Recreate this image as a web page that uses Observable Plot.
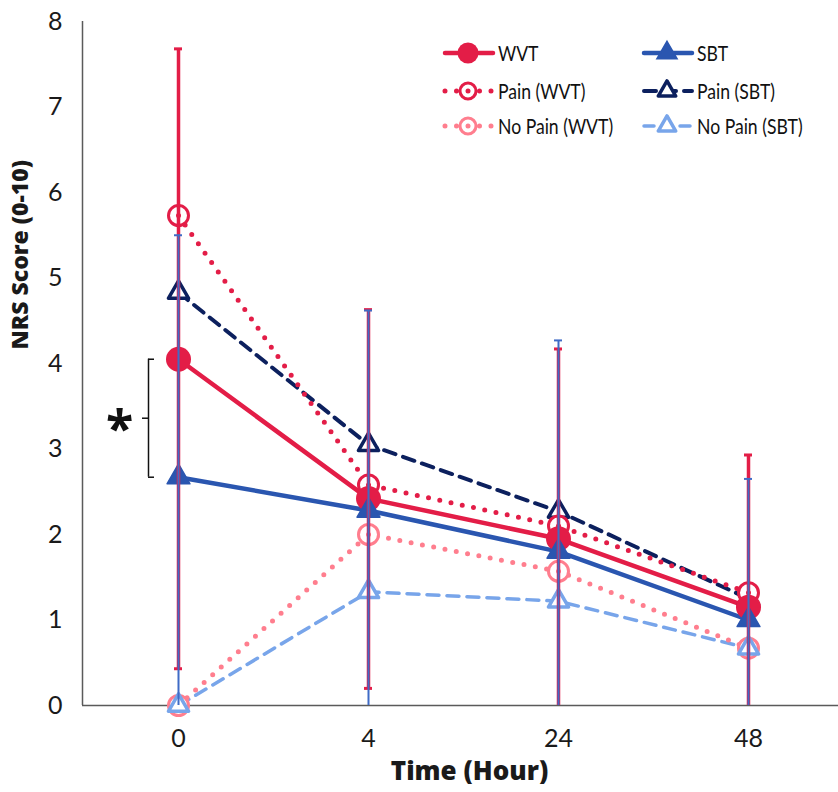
<!DOCTYPE html>
<html><head><meta charset="utf-8">
<script src="https://cdn.jsdelivr.net/npm/d3@7"></script>
<script src="https://cdn.jsdelivr.net/npm/@observablehq/plot@0.6"></script>
<style>
body{margin:0;background:#fff}
#wrap{position:relative;width:838px;height:792px}
#legend{position:absolute;left:0;top:0}
</style>
</head><body><div id="wrap"></div>
<script>
const times = ["0", "4", "24", "48"];
const wvt = [4.05, 2.42, 1.95, 1.15];
const sbt = [2.67, 2.28, 1.80, 1.00];
const painWvt = [5.73, 2.58, 2.10, 1.32];
const painSbt = [4.83, 3.05, 2.27, 1.25];
const noPainWvt = [0.00, 2.00, 1.57, 0.67];
const noPainSbt = [0.00, 1.33, 1.22, 0.67];
const wvtHigh = [7.68, 4.63, 4.17, 2.93];
const wvtLow = [0.43, 0.20, 0.00, 0.00];
const sbtHigh = [5.50, 4.62, 4.27, 2.65];
const sbtLow = [0.00, 0.00, 0.00, 0.00];
const yTicks = [0, 1, 2, 3, 4, 5, 6, 7, 8];
const bracketLow = 2.67, bracketHigh = 4.05, bracketLabel = "*";
const seriesNames = ["WVT", "SBT", "Pain (WVT)", "Pain (SBT)", "No Pain (WVT)", "No Pain (SBT)"];

const C = {wvt:"#E31D47", sbt:"#2A56B0", painSbt:"#0C205E", noWvt:"#FF7E8E", noSbt:"#78A5EA"};
const FONT = "Lato, 'Open Sans', sans-serif";
const TITLEFONT = "'Open Sans', Lato, sans-serif";

const rows = (vals) => times.map((t, i) => ({t, v: vals[i]}));
const err = (hi, lo) => times.map((t, i) => ({t, hi: hi[i], lo: lo[i]}));
const W = rows(wvt), S = rows(sbt), PW = rows(painWvt), PS = rows(painSbt), NW = rows(noPainWvt), NS = rows(noPainSbt);
const EW = err(wvtHigh, wvtLow), ES = err(sbtHigh, sbtLow);

const openCircle = (d, c) => [
  Plot.dot(d, {x:"t", y:"v", r:10, stroke:c, strokeWidth:3, fill:"white"}),
  Plot.dot(d, {x:"t", y:"v", r:2.5, fill:c})
];
const openTri = (d, c) => Plot.dot(d, {x:"t", y:"v", symbol:"triangle", r:7.5, stroke:c, strokeWidth:3.5, fill:"white", strokeLinejoin:"round"});

const plot = Plot.plot({
  width: 838, height: 792,
  marginLeft: 82, marginRight: 0, marginTop: 21, marginBottom: 87,
  style: {fontFamily: FONT, fontSize: "25px", color: "#1a1a1a", background: "white"},
  x: {type: "point", domain: times, range: [177, 749], padding: 0, axis: null},
  y: {domain: [0, 8], axis: null},
  marks: [
    Plot.axisY(yTicks, {tickSize: 0, tickPadding: 20, label: null, fontSize: 25, tickFormat: d => String(d)}),
    Plot.axisX(times, {tickSize: 0, tickPadding: 24, label: null, fontSize: 25}),
    Plot.ruleY([0], {stroke: "#5a5a5a", strokeWidth: 1.5}),
    Plot.ruleX([times[0]], {x: d => d, y1: 0, y2: 8, dx: -96, stroke: "#5a5a5a", strokeWidth: 1.5}),
    Plot.text(["NRS Score (0-10)"], {frameAnchor: "left", rotate: -90, dx: -62, dy: -14, fontWeight: 800, fontSize: 23, fontFamily: TITLEFONT}),
    Plot.text(["Time (Hour)"], {frameAnchor: "bottom", dy: 74, dx: 9, fontWeight: 800, fontSize: 26, fontFamily: TITLEFONT}),
    // lines
    Plot.line(NS, {x:"t", y:"v", stroke:C.noSbt, strokeWidth:3.5, strokeDasharray:"12,8"}),
    Plot.line(NW, {x:"t", y:"v", stroke:C.noWvt, strokeWidth:5, strokeDasharray:"0,11.5", strokeLinecap:"round"}),
    Plot.line(PS, {x:"t", y:"v", stroke:C.painSbt, strokeWidth:4, strokeDasharray:"12,8"}),
    Plot.line(PW, {x:"t", y:"v", stroke:C.wvt, strokeWidth:5, strokeDasharray:"0,11.5", strokeLinecap:"round"}),
    Plot.line(W, {x:"t", y:"v", stroke:C.wvt, strokeWidth:4.5}),
    Plot.line(S, {x:"t", y:"v", stroke:C.sbt, strokeWidth:4.5}),
    // markers
    ...openCircle(NW, C.noWvt),
    openTri(NS, C.noSbt),
    openTri(PS, C.painSbt),
    ...openCircle(PW, C.wvt),
    Plot.dot(W, {x:"t", y:"v", r:12.5, fill:C.wvt}),
    Plot.dot(S, {x:"t", y:"v", symbol:"triangle", r:8.5, fill:C.sbt, stroke:C.sbt, strokeWidth:1.5, strokeLinejoin:"round"}),
    // error bars
    Plot.ruleX(EW, {x:"t", y1:"lo", y2:"hi", stroke:C.wvt, strokeWidth:3.5}),
    Plot.ruleY(EW.filter(d => d.lo > 0), {y:"lo", x1:"t", x2:"t", insetLeft:-4, insetRight:-4, stroke:C.wvt, strokeWidth:3}),
    Plot.ruleY(EW, {y:"hi", x1:"t", x2:"t", insetLeft:-4, insetRight:-4, stroke:C.wvt, strokeWidth:3}),
    Plot.ruleX(ES, {x:"t", y1:"lo", y2:"hi", stroke:"#3F6BC6", strokeWidth:2}),
    Plot.ruleY(ES, {y:"hi", x1:"t", x2:"t", insetLeft:-4, insetRight:-4, stroke:"#3F6BC6", strokeWidth:2}),
    // significance bracket
    Plot.ruleX([times[0]], {x: d => d, y1: bracketLow, y2: bracketHigh, dx: -30, stroke: "#111", strokeWidth: 1.5}),
    Plot.ruleY([bracketLow, bracketHigh], {y: d => d, x1: () => times[0], x2: () => times[0], insetLeft: -30, insetRight: 24, stroke: "#111", strokeWidth: 1.5}),
    Plot.ruleY([(bracketLow + bracketHigh) / 2], {y: d => d, x1: () => times[0], x2: () => times[0], insetLeft: -36, insetRight: 30, stroke: "#111", strokeWidth: 1.5}),
    Plot.text([bracketLabel], {x: () => times[0], y: () => (bracketLow + bracketHigh) / 2, dx: -59, dy: 12, fontSize: 50, fontWeight: "bold", fill: "#111", fontFamily: TITLEFONT})
  ]
});
const wrap = document.getElementById("wrap");
wrap.appendChild(plot);

// legend overlay
const legendItems = [
  {name: seriesNames[0], col: 0, row: 0, c: C.wvt, dash: null, w: 4.5, mk: "fcircle"},
  {name: seriesNames[1], col: 1, row: 0, c: C.sbt, dash: null, w: 4.5, mk: "ftri"},
  {name: seriesNames[2], col: 0, row: 1, c: C.wvt, dash: "0,11.5", w: 5, mk: "ocircle"},
  {name: seriesNames[3], col: 1, row: 1, c: C.painSbt, dash: "12,8", w: 4, mk: "otri"},
  {name: seriesNames[4], col: 0, row: 2, c: C.noWvt, dash: "0,11.5", w: 5, mk: "ocircle"},
  {name: seriesNames[5], col: 1, row: 2, c: C.noSbt, dash: "10,8", w: 3.5, mk: "otri"}
];
const lg = d3.select(wrap).append("svg").attr("id", "legend").attr("width", 838).attr("height", 160)
  .style("font-family", "Lato, sans-serif").style("font-size", "22px");
const colX = [443, 642], rowY = [53, 91, 126];
for (const it of legendItems) {
  const x0 = colX[it.col], y0 = rowY[it.row], cx = x0 + 25;
  const g = lg.append("g");
  const ln = g.append("line").attr("x1", x0 + 2).attr("x2", x0 + 50).attr("y1", y0).attr("y2", y0)
    .attr("stroke", it.c).attr("stroke-width", it.w).attr("stroke-linecap", "round");
  if (it.dash) ln.attr("stroke-dasharray", it.dash);
  const tri = d3.symbol(d3.symbolTriangle, Math.PI * 7.5 * 7.5)();
  if (it.mk === "fcircle") g.append("circle").attr("cx", cx).attr("cy", y0).attr("r", 10.5).attr("fill", it.c);
  if (it.mk === "ocircle") {
    g.append("circle").attr("cx", cx).attr("cy", y0).attr("r", 8).attr("fill", "white").attr("stroke", it.c).attr("stroke-width", 3);
    g.append("circle").attr("cx", cx).attr("cy", y0).attr("r", 2.5).attr("fill", it.c);
  }
  if (it.mk === "ftri") g.append("path").attr("d", tri).attr("transform", `translate(${cx},${y0})`).attr("fill", it.c).attr("stroke", it.c).attr("stroke-width", 1.5);
  if (it.mk === "otri") g.append("path").attr("d", d3.symbol(d3.symbolTriangle, Math.PI * 6.5 * 6.5)()).attr("transform", `translate(${cx},${y0})`).attr("fill", "white").attr("stroke", it.c).attr("stroke-width", 3.5).attr("stroke-linejoin", "round");
  g.append("text").attr("transform", `translate(${x0 + 55},${y0}) scale(0.8,1)`).attr("dy", "0.35em").attr("fill", "#111").text(it.name);
}
</script>
</body></html>
